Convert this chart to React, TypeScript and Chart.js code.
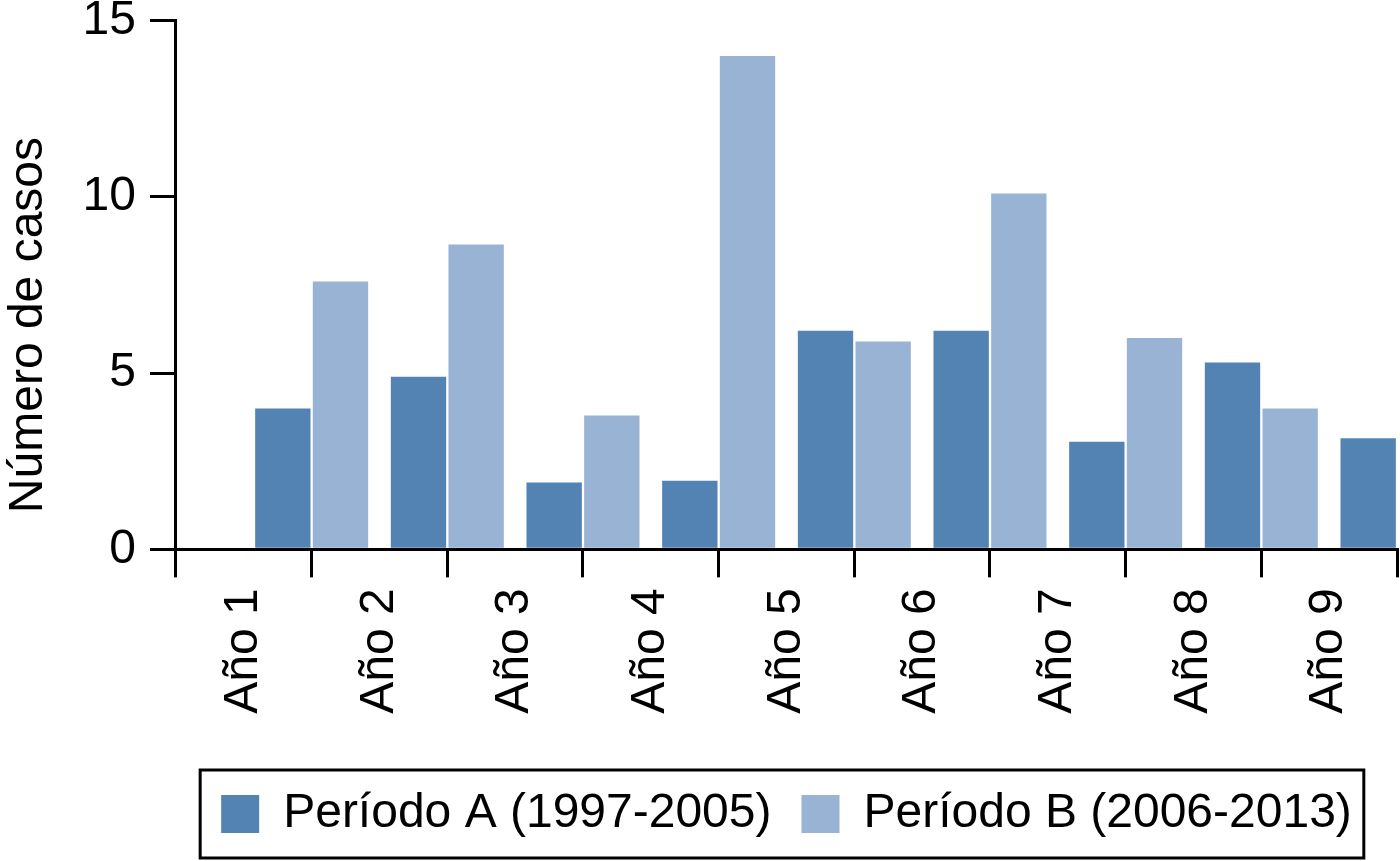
import React, { useEffect, useRef } from "react";
import { Chart, registerables } from "chart.js";

Chart.register(...registerables);

// ---- data ----
const yearLabels = ["Año 1", "Año 2", "Año 3", "Año 4", "Año 5", "Año 6", "Año 7", "Año 8", "Año 9"];
const barPositions = ["0", "1", "2", "3", "4", "5", "6", "7", "8", "9"];
const periodA = [4.0, 4.9, 1.9, 1.95, 6.2, 6.2, 3.05, 5.3, 3.15];
const periodB = [7.6, 8.65, 3.8, 14.0, 5.9, 10.1, 6.0, 4.0, null];
const seriesNames = ["Período A (1997-2005)", "Período B (2006-2013)"];
const yTicks = [0, 5, 10, 15];

const colorA = "#5383b3";
const colorB = "#99b3d5";
const FONT = '"Liberation Sans", Arial, Helvetica, sans-serif';

const legendBorder = {
  id: "legendBorder",
  afterDraw(chart: any) {
    const lg = chart.legend;
    if (!lg || !lg.legendHitBoxes || !lg.legendHitBoxes.length) return;
    const hb = lg.legendHitBoxes;
    const boxH = lg.options.labels.boxHeight;
    const fs = lg.options.labels.font.size;
    const left = Math.min(...hb.map((h: any) => h.left)) - 21;
    const right = Math.max(...hb.map((h: any) => h.left + h.width)) + 12;
    const boxTop = Math.min(...hb.map((h: any) => h.top)) + Math.max((fs - boxH) / 2, 0);
    const top = boxTop - 25;
    const bottom = boxTop + boxH + 25;
    const ctx = chart.ctx;
    ctx.save();
    ctx.strokeStyle = "#000";
    ctx.lineWidth = 3;
    ctx.strokeRect(left, top, right - left, bottom - top);
    ctx.restore();
  },
};

export default function App() {
  const ref = useRef<HTMLCanvasElement | null>(null);

  useEffect(() => {
    if (!ref.current) return;
    Chart.defaults.font.family = FONT;
    const chart = new Chart(ref.current, {
      type: "bar",
      data: {
        labels: barPositions,
        datasets: [
          {
            label: seriesNames[0],
            data: [null, ...periodA],
            backgroundColor: colorA,
            xAxisID: "x",
            yAxisID: "y",
            barPercentage: 0.96,
            categoryPercentage: 0.85,
          },
          {
            label: seriesNames[1],
            data: [null, ...periodB],
            backgroundColor: colorB,
            xAxisID: "x",
            yAxisID: "y",
            barPercentage: 0.96,
            categoryPercentage: 0.85,
          },
        ],
      },
      options: {
        responsive: false,
        devicePixelRatio: 1,
        animation: false,
        layout: { padding: { right: 3, bottom: 13, top: 0, left: 0 } },
        plugins: {
          tooltip: { enabled: false },
          legend: {
            position: "bottom",
            fullSize: false,
            labels: {
              boxWidth: 38,
              boxHeight: 38,
              padding: 30,
              color: "#000",
              font: { size: 48, family: FONT },
            },
          },
        },
        scales: {
          x: {
            type: "category",
            labels: barPositions,
            position: "bottom",
            weight: 0,
            offset: false,
            grid: {
              display: true,
              offset: false,
              drawOnChartArea: false,
              drawTicks: true,
              tickLength: 28,
              color: "#000",
              lineWidth: 3,
            },
            border: { display: true, color: "#000", width: 3 },
            ticks: { display: false },
          },
          x2: {
            type: "category",
            labels: yearLabels,
            position: "bottom",
            weight: 1,
            offset: true,
            grid: { display: false, drawTicks: false, tickLength: 0 },
            border: { display: false },
            ticks: {
              minRotation: 90,
              maxRotation: 90,
              padding: 11,
              color: "#000",
              autoSkip: false,
              font: { size: 48, family: FONT },
            },
            title: {
              display: true,
              text: "",
              font: { size: 1 },
              padding: { top: 34, bottom: 0 },
            },
          },
          y: {
            type: "linear",
            min: 0,
            max: 15,
            afterBuildTicks: (scale: any) => {
              scale.ticks = yTicks.map((v) => ({ value: v }));
            },
            grid: {
              display: true,
              drawOnChartArea: false,
              drawTicks: true,
              tickLength: 26,
              color: "#000",
              lineWidth: 3,
            },
            border: { display: true, color: "#000", width: 3 },
            ticks: {
              padding: 14,
              color: "#000",
              font: { size: 48, family: FONT, lineHeight: 0.28 },
            },
            title: {
              display: true,
              text: "Número de casos\u00a0\u00a0\u00a0\u00a0\u00a0\u00a0",
              color: "#000",
              font: { size: 48, family: FONT },
              padding: { top: 0, bottom: 11 },
            },
          },
        },
      },
      plugins: [legendBorder],
    } as any);
    return () => chart.destroy();
  }, []);

  return (
    <div style={{ position: "fixed", left: 0, top: 0, width: 1400, height: 861, background: "#fff" }}>
      <canvas ref={ref} width={1400} height={861} style={{ width: 1400, height: 861, display: "block" }} />
    </div>
  );
}
